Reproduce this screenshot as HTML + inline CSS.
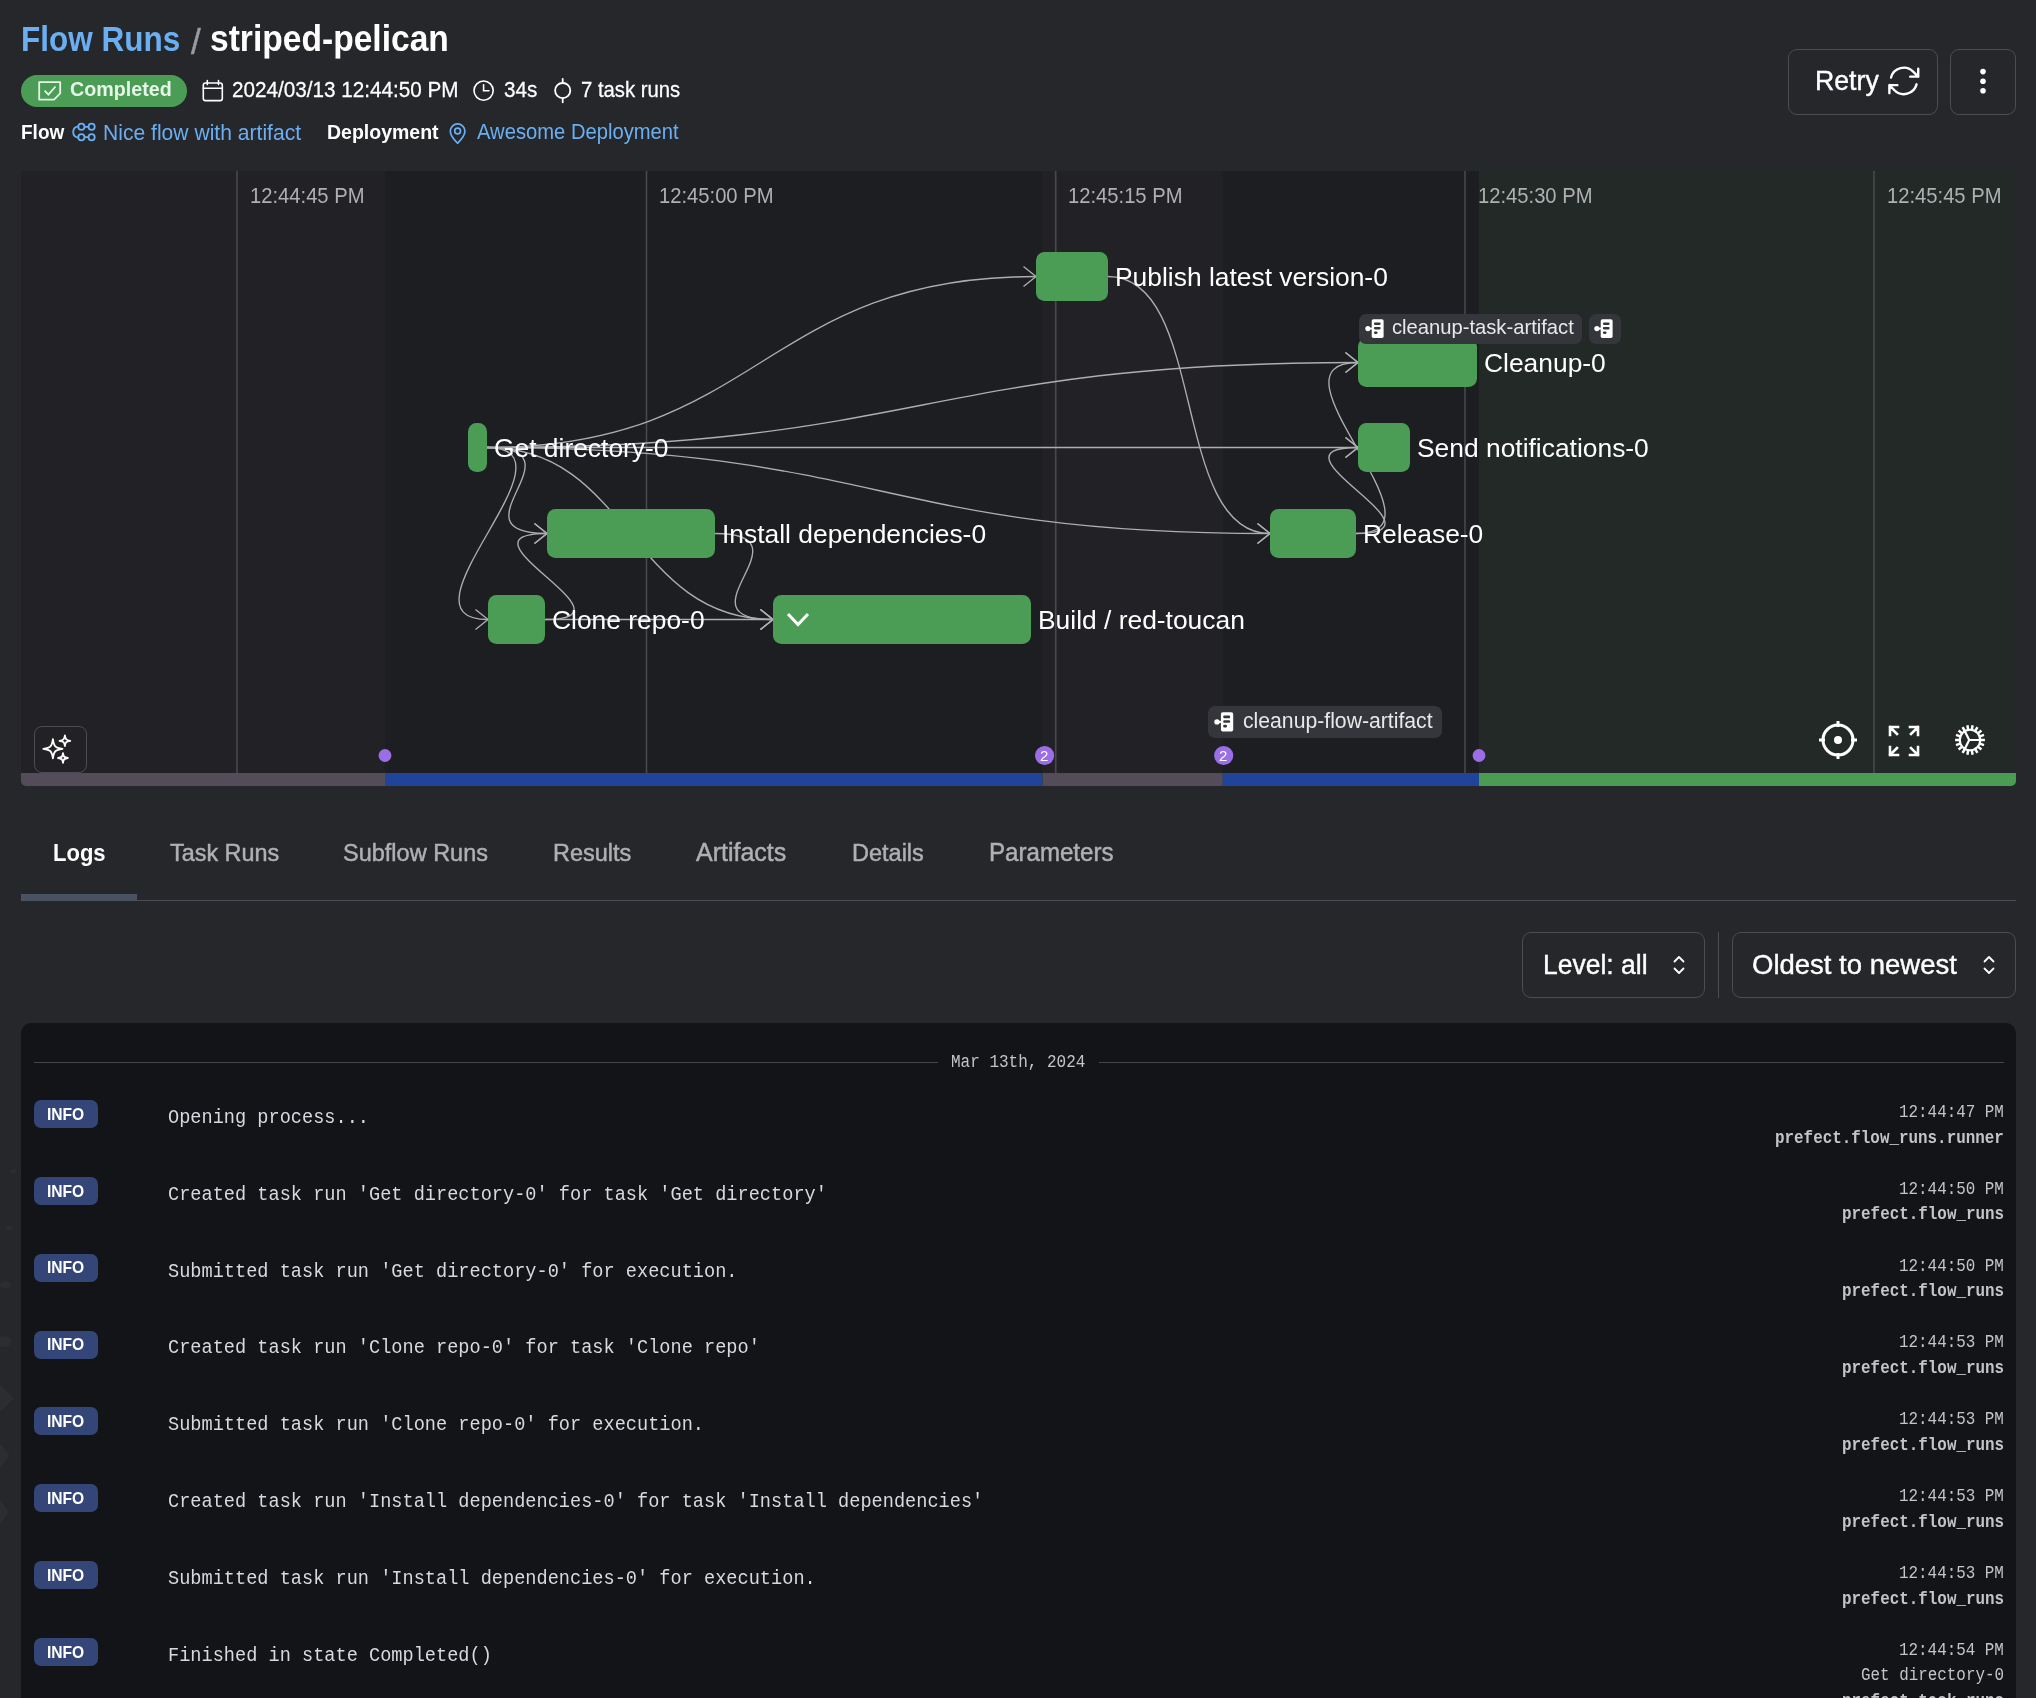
<!DOCTYPE html>
<html><head><meta charset="utf-8">
<style>
*{box-sizing:border-box;margin:0;padding:0}
html,body{width:2036px;height:1698px;overflow:hidden;background:#26272b;font-family:"Liberation Sans",sans-serif;color:#fff}
.a{position:absolute;white-space:nowrap;line-height:1;will-change:transform}
.m{font-family:"Liberation Mono",monospace}
.b{font-weight:700}
svg{position:absolute;overflow:visible}
</style></head><body>

<div class="a b" style="left:21.00px;top:24.54px;font-size:31.5px;color:#6aaff2;transform:scaleY(1.1);transform-origin:0 26.66px;">Flow Runs</div>
<div class="a" style="left:191.00px;top:23.87px;font-size:35px;color:#9a9aa0;-webkit-text-stroke:0.5px #9a9aa0;">/</div>
<div class="a b" style="left:210.00px;top:22.76px;font-size:33.6px;color:#fff;transform:scaleY(1.08);transform-origin:0 28.44px;">striped-pelican</div>
<div class="a" style="left:21.00px;top:75.00px;width:166.00px;height:32.00px;border-radius:16px;background:#4b9c55"></div>
<div class="a b" style="left:69.50px;top:80.32px;font-size:19.7px;color:#e6f6e8;transform:scaleY(1.06);transform-origin:0 16.68px;">Completed</div>
<div class="a" style="left:232.00px;top:79.88px;font-size:20.7px;color:#fff;transform:scaleY(1.05);transform-origin:0 17.52px;-webkit-text-stroke:0.25px #fff;">2024/03/13 12:44:50 PM</div>
<div class="a" style="left:503.50px;top:79.88px;font-size:20.7px;color:#fff;transform:scaleY(1.05);transform-origin:0 17.52px;-webkit-text-stroke:0.25px #fff;">34s</div>
<div class="a" style="left:581.00px;top:80.22px;font-size:20.3px;color:#fff;transform:scaleY(1.05);transform-origin:0 17.18px;-webkit-text-stroke:0.25px #fff;">7 task runs</div>
<div class="a b" style="left:21.00px;top:123.42px;font-size:19px;color:#fff;transform:scaleY(1.08);transform-origin:0 16.08px;">Flow</div>
<div class="a" style="left:102.50px;top:121.64px;font-size:21.1px;color:#6aaff2;transform:scaleY(1.04);transform-origin:0 17.86px;">Nice flow with artifact</div>
<div class="a b" style="left:327.00px;top:122.99px;font-size:19.5px;color:#fff;transform:scaleY(1.08);transform-origin:0 16.51px;">Deployment</div>
<div class="a" style="left:477.30px;top:122.40px;font-size:20.2px;color:#6aaff2;transform:scaleY(1.05);transform-origin:0 17.10px;">Awesome Deployment</div>
<svg style="left:0;top:0" width="2036" height="170" viewBox="0 0 2036 170"><path d="M39.2 82.2h21v11.2l-6.2 6.2H39.2z" fill="none" stroke="#e6f6e8" stroke-width="1.8" stroke-linejoin="round"/><path d="M44.6 90.7l3.8 4 7.1-8.2" fill="none" stroke="#e6f6e8" stroke-width="1.8" stroke-linecap="butt" stroke-linejoin="miter"/><g fill="none" stroke="#fff" stroke-width="1.6" stroke-linecap="round"><rect x="203.3" y="83" width="19" height="17.6" rx="2.2"/><path d="M203.3 88.3h19M207.3 80.6v4M218.5 80.6v4"/></g><g fill="none" stroke="#fff" stroke-width="1.6" stroke-linecap="round"><circle cx="483.6" cy="90.6" r="9.6"/><path d="M483.6 84.8v6h5.4"/></g><g fill="none" stroke="#fff" stroke-width="1.8" stroke-linecap="round"><circle cx="562.7" cy="90.6" r="7.6"/><path d="M562.7 79v3.9M562.7 98.3v4"/></g><g fill="none" stroke="#6aaff2" stroke-width="1.8"><circle cx="81.4" cy="126.8" r="3.1"/><circle cx="91.6" cy="126.8" r="3.1"/><circle cx="81.4" cy="137.2" r="3.1"/><circle cx="91.6" cy="137.2" r="3.1"/><path d="M84.5 126.8h4M84.5 137.2h4M78.3 126.3C75.2 126.8 73.2 129.2 73.2 132C73.2 134.8 75.2 137.2 78.3 137.7"/></g><g fill="none" stroke="#6aaff2" stroke-width="1.7" stroke-linejoin="round"><path d="M457.6 143.2C455 140.6 450.3 136 450.3 131.2A7.3 7.3 0 0 1 464.9 131.2C464.9 136 460.2 140.6 457.6 143.2z"/><circle cx="457.6" cy="131" r="2.9"/></g></svg>
<svg style="left:0;top:1140px" width="22" height="560" viewBox="0 1140 22 560" fill="#2c2d31"><ellipse cx="13.4" cy="1171" rx="3.6" ry="2.1"/><ellipse cx="9.5" cy="1228" rx="3.6" ry="2.1"/><ellipse cx="5.5" cy="1284.7" rx="5.5" ry="3.3"/><ellipse cx="3" cy="1341.5" rx="8.3" ry="5.5"/><path d="M0 1385L14 1398.5L0 1412z"/><path d="M0 1443L9.5 1455.5L0 1468z"/><path d="M0 1500L9 1512L0 1524z"/></svg>
<div class="a" style="left:1788.00px;top:49.00px;width:150.00px;height:66.00px;border:1px solid #4c4d53;border-radius:9px"></div>
<div class="a" style="left:1815.00px;top:67.80px;font-size:26.7px;color:#fff;transform:scaleY(1.04);transform-origin:0 22.60px;-webkit-text-stroke:0.4px #fff;">Retry</div>
<svg style="left:0;top:0" width="2036" height="170" viewBox="0 0 2036 170"><g transform="translate(1884.6 61.7) scale(1.6)" fill="none" stroke="#fff" stroke-width="1.5" stroke-linecap="round" stroke-linejoin="round"><path d="M16.023 9.348h4.992v-.001M2.985 19.644v-4.992m0 0h4.992m-4.993 0 3.181 3.183a8.25 8.25 0 0 0 13.803-3.7M4.031 9.865a8.25 8.25 0 0 1 13.803-3.7l3.181 3.182m0-4.991v4.99"/></g></svg>
<div class="a" style="left:1950.00px;top:49.00px;width:66.00px;height:66.00px;border:1px solid #4c4d53;border-radius:9px"></div>
<svg style="left:1978px;top:66px" width="10" height="30" viewBox="0 0 10 30" fill="#fff"><circle cx="5" cy="5.6" r="2.8"/><circle cx="5" cy="15.2" r="2.8"/><circle cx="5" cy="24.7" r="2.8"/></svg>
<div class="a" style="left:21px;top:171px;width:1995px;height:615px;border-radius:2px 2px 5px 5px;overflow:hidden"><svg style="left:0;top:0" width="1995" height="615" viewBox="0 0 1995 615"><rect x="0" y="0" width="364.00" height="615" fill="#222226"/><rect x="364" y="0" width="657.50" height="615" fill="#1d1e21"/><rect x="1021.5" y="0" width="180.30" height="615" fill="#222226"/><rect x="1201.8" y="0" width="256.20" height="615" fill="#1d1e21"/><rect x="1458" y="0" width="537.00" height="615" fill="#222926"/><rect x="215.2" y="0" width="1.6" height="602" fill="#48484f"/><rect x="624.7" y="0" width="1.6" height="602" fill="#48484f"/><rect x="1033.9" y="0" width="1.6" height="602" fill="#48484f"/><rect x="1443.2" y="0" width="1.6" height="602" fill="#48484f"/><rect x="1852.2" y="0" width="1.6" height="602" fill="#48484f"/><rect x="0" y="602" width="364.00" height="13" fill="#544c59"/><rect x="364" y="602" width="657.50" height="13" fill="#1f4499"/><rect x="1021.5" y="602" width="180.30" height="13" fill="#544c59"/><rect x="1201.8" y="602" width="256.20" height="13" fill="#1f4499"/><rect x="1458" y="602" width="537.00" height="13" fill="#4a9c53"/><path d="M466 276.5 C740.5 276.5 740.5 105.5 1015 105.5" fill="none" stroke="#adadb2" stroke-width="1.35"/><path d="M1002.5 95.5 L1015 105.5 L1002.5 115.5" fill="none" stroke="#adadb2" stroke-width="1.35"/><path d="M466 276.5 C901.5 276.5 901.5 191.5 1337 191.5" fill="none" stroke="#adadb2" stroke-width="1.35"/><path d="M1324.5 181.5 L1337 191.5 L1324.5 201.5" fill="none" stroke="#adadb2" stroke-width="1.35"/><path d="M466 276.5 C901.5 276.5 901.5 276.5 1337 276.5" fill="none" stroke="#adadb2" stroke-width="1.35"/><path d="M1324.5 266.5 L1337 276.5 L1324.5 286.5" fill="none" stroke="#adadb2" stroke-width="1.35"/><path d="M466 276.5 C857.5 276.5 857.5 362.5 1249 362.5" fill="none" stroke="#adadb2" stroke-width="1.35"/><path d="M1236.5 352.5 L1249 362.5 L1236.5 372.5" fill="none" stroke="#adadb2" stroke-width="1.35"/><path d="M466 276.5 C566 276.5 426 362.5 526 362.5" fill="none" stroke="#adadb2" stroke-width="1.35"/><path d="M513.5 352.5 L526 362.5 L513.5 372.5" fill="none" stroke="#adadb2" stroke-width="1.35"/><path d="M466 276.5 C566 276.5 367 448.5 467 448.5" fill="none" stroke="#adadb2" stroke-width="1.35"/><path d="M454.5 438.5 L467 448.5 L454.5 458.5" fill="none" stroke="#adadb2" stroke-width="1.35"/><path d="M466 276.5 C609.0 276.5 609.0 448.5 752 448.5" fill="none" stroke="#adadb2" stroke-width="1.35"/><path d="M739.5 438.5 L752 448.5 L739.5 458.5" fill="none" stroke="#adadb2" stroke-width="1.35"/><path d="M694 362.5 C794 362.5 652 448.5 752 448.5" fill="none" stroke="#adadb2" stroke-width="1.35"/><path d="M739.5 438.5 L752 448.5 L739.5 458.5" fill="none" stroke="#adadb2" stroke-width="1.35"/><path d="M524 448.5 C638.0 448.5 638.0 448.5 752 448.5" fill="none" stroke="#adadb2" stroke-width="1.35"/><path d="M739.5 438.5 L752 448.5 L739.5 458.5" fill="none" stroke="#adadb2" stroke-width="1.35"/><path d="M524 448.5 C624 448.5 426 362.5 526 362.5" fill="none" stroke="#adadb2" stroke-width="1.35"/><path d="M513.5 352.5 L526 362.5 L513.5 372.5" fill="none" stroke="#adadb2" stroke-width="1.35"/><path d="M1087 105.5 C1187 105.5 1149 362.5 1249 362.5" fill="none" stroke="#adadb2" stroke-width="1.35"/><path d="M1236.5 352.5 L1249 362.5 L1236.5 372.5" fill="none" stroke="#adadb2" stroke-width="1.35"/><path d="M1335 362.5 C1435 362.5 1237 191.5 1337 191.5" fill="none" stroke="#adadb2" stroke-width="1.35"/><path d="M1324.5 181.5 L1337 191.5 L1324.5 201.5" fill="none" stroke="#adadb2" stroke-width="1.35"/><path d="M1335 362.5 C1435 362.5 1237 276.5 1337 276.5" fill="none" stroke="#adadb2" stroke-width="1.35"/><path d="M1324.5 266.5 L1337 276.5 L1324.5 286.5" fill="none" stroke="#adadb2" stroke-width="1.35"/><rect x="447" y="252" width="19" height="49" rx="8.5" fill="#4b9c55"/><rect x="526" y="338" width="168" height="49" rx="8.5" fill="#4b9c55"/><rect x="467" y="424" width="57" height="49" rx="8.5" fill="#4b9c55"/><rect x="752" y="424" width="258" height="49" rx="8.5" fill="#4b9c55"/><rect x="1015" y="81" width="72" height="49" rx="8.5" fill="#4b9c55"/><rect x="1337" y="167" width="119" height="49" rx="8.5" fill="#4b9c55"/><rect x="1337" y="252" width="52" height="49" rx="8.5" fill="#4b9c55"/><rect x="1249" y="338" width="86" height="49" rx="8.5" fill="#4b9c55"/><path d="M767 443 L777 453.5 L787 443" fill="none" stroke="#fff" stroke-width="3" stroke-linecap="butt" stroke-linejoin="miter"/><circle cx="364" cy="584.5" r="6.4" fill="#9b6ee8"/><circle cx="1458" cy="584.5" r="6.4" fill="#9b6ee8"/><circle cx="1023.6" cy="584.5" r="9.6" fill="#9b6ee8"/><circle cx="1202.7" cy="584.5" r="9.6" fill="#9b6ee8"/></svg>
<div class="a" style="left:228.50px;top:15.10px;font-size:20.2px;color:#b0b0b4;transform:scaleY(1.05);transform-origin:0 17.10px;">12:44:45 PM</div>
<div class="a" style="left:638.00px;top:15.10px;font-size:20.2px;color:#b0b0b4;transform:scaleY(1.05);transform-origin:0 17.10px;">12:45:00 PM</div>
<div class="a" style="left:1047.20px;top:15.10px;font-size:20.2px;color:#b0b0b4;transform:scaleY(1.05);transform-origin:0 17.10px;">12:45:15 PM</div>
<div class="a" style="left:1456.50px;top:15.10px;font-size:20.2px;color:#b0b0b4;transform:scaleY(1.05);transform-origin:0 17.10px;">12:45:30 PM</div>
<div class="a" style="left:1865.50px;top:15.10px;font-size:20.2px;color:#b0b0b4;transform:scaleY(1.05);transform-origin:0 17.10px;">12:45:45 PM</div>
<div class="a" style="left:473.00px;top:263.55px;font-size:26.4px;color:#fff;">Get directory-0</div>
<div class="a" style="left:701.00px;top:349.55px;font-size:26.4px;color:#fff;">Install dependencies-0</div>
<div class="a" style="left:531.00px;top:435.55px;font-size:26.4px;color:#fff;">Clone repo-0</div>
<div class="a" style="left:1017.00px;top:435.55px;font-size:26.4px;color:#fff;">Build / red-toucan</div>
<div class="a" style="left:1094.00px;top:92.55px;font-size:26.4px;color:#fff;">Publish latest version-0</div>
<div class="a" style="left:1463.00px;top:178.55px;font-size:26.4px;color:#fff;">Cleanup-0</div>
<div class="a" style="left:1396.00px;top:263.55px;font-size:26.4px;color:#fff;">Send notifications-0</div>
<div class="a" style="left:1342.00px;top:349.55px;font-size:26.4px;color:#fff;">Release-0</div>
<div class="a" style="left:1019.10px;top:577.30px;font-size:15px;color:#fff;">2</div>
<div class="a" style="left:1198.20px;top:577.30px;font-size:15px;color:#fff;">2</div>
<div class="a" style="left:1337.50px;top:142.50px;width:223.20px;height:30.00px;border-radius:7px;background:#35363b"></div><svg style="left:1343.6px;top:147.5px" width="19.2" height="19.2" viewBox="0 0 20 20"><circle cx="3" cy="10" r="2.7" fill="#fff"/><path d="M3 10h5" stroke="#fff" stroke-width="2"/><rect x="7" y="0.3" width="12.4" height="19.4" rx="1.8" fill="#fff"/><rect x="9.3" y="3.6" width="7" height="2.6" rx="1.2" fill="#35363b"/><rect x="9.3" y="8.3" width="7" height="2.6" rx="1.2" fill="#35363b"/><rect x="9.3" y="13" width="3.8" height="2.6" rx="1.2" fill="#35363b"/></svg><div class="a" style="left:1370.50px;top:146.10px;font-size:20.2px;color:#e8e8ea;">cleanup-task-artifact</div>
<div class="a" style="left:1567.60px;top:142.50px;width:32.40px;height:30.00px;border-radius:7px;background:#35363b"></div><svg style="left:1572.6px;top:147.5px" width="19.2" height="19.2" viewBox="0 0 20 20"><circle cx="3" cy="10" r="2.7" fill="#fff"/><path d="M3 10h5" stroke="#fff" stroke-width="2"/><rect x="7" y="0.3" width="12.4" height="19.4" rx="1.8" fill="#fff"/><rect x="9.3" y="3.6" width="7" height="2.6" rx="1.2" fill="#35363b"/><rect x="9.3" y="8.3" width="7" height="2.6" rx="1.2" fill="#35363b"/><rect x="9.3" y="13" width="3.8" height="2.6" rx="1.2" fill="#35363b"/></svg>
<div class="a" style="left:1187.00px;top:535.00px;width:234.00px;height:31.50px;border-radius:7px;background:#35363b"></div><svg style="left:1192.6px;top:541px" width="19.8" height="19.8" viewBox="0 0 20 20"><circle cx="3" cy="10" r="2.7" fill="#fff"/><path d="M3 10h5" stroke="#fff" stroke-width="2"/><rect x="7" y="0.3" width="12.4" height="19.4" rx="1.8" fill="#fff"/><rect x="9.3" y="3.6" width="7" height="2.6" rx="1.2" fill="#35363b"/><rect x="9.3" y="8.3" width="7" height="2.6" rx="1.2" fill="#35363b"/><rect x="9.3" y="13" width="3.8" height="2.6" rx="1.2" fill="#35363b"/></svg><div class="a" style="left:1221.50px;top:539.05px;font-size:21.2px;color:#e8e8ea;">cleanup-flow-artifact</div>
<div class="a" style="left:13.00px;top:555.00px;width:53.00px;height:47.00px;border:1px solid #4c4d53;border-radius:8px;background:#222226"></div>
<svg style="left:0;top:0" width="1995" height="615" viewBox="21 171 1995 615" fill="none" stroke="#fff" stroke-width="1.8" stroke-linejoin="round"><path d="M52.9 739.1999999999999 C53.86 746.40 55.30 747.84 62.5 748.8 C55.30 749.76 53.86 751.20 52.9 758.4 C51.94 751.20 50.50 749.76 43.3 748.8 C50.50 747.84 51.94 746.40 52.9 739.1999999999999zM64.9 735.4 C65.44 739.45 66.25 740.26 70.30000000000001 740.8 C66.25 741.34 65.44 742.15 64.9 746.1999999999999 C64.36 742.15 63.55 741.34 59.50000000000001 740.8 C63.55 740.26 64.36 739.45 64.9 735.4zM63 753.1 C63.49 756.77 64.22 757.51 67.9 758 C64.22 758.49 63.49 759.23 63 762.9 C62.51 759.23 61.77 758.49 58.1 758 C61.77 757.51 62.51 756.77 63 753.1z"/></svg>
<svg style="left:1797px;top:549px" width="40" height="40" viewBox="0 0 40 40" fill="none" stroke="#fff" stroke-width="3"><circle cx="20" cy="20" r="15"/><circle cx="20" cy="20" r="4" fill="#fff" stroke="none"/><path d="M20 1v6M20 33v6M1 20h6M33 20h6"/></svg>
<svg style="left:1867px;top:554px" width="32" height="32" viewBox="0 0 32 32" fill="none" stroke="#fff" stroke-width="2.6" stroke-linecap="square"><path d="M2 10V2h8M2 2l7 7M30 10V2h-8M30 2l-7 7M2 22v8h8M2 30l7-7M30 22v8h-8M30 30l-7-7"/></svg>
<svg style="left:0;top:0" width="1995" height="615" viewBox="21 171 1995 615" fill="none" stroke="#fff"><circle cx="1970" cy="740" r="10.2" stroke-width="2.1"/><path d="M1980.50 740.00L1984.90 740.00M1979.87 743.59L1984.00 745.10M1978.04 746.75L1981.41 749.58M1975.25 749.09L1977.45 752.90M1971.82 750.34L1972.59 754.67M1968.18 750.34L1967.41 754.67M1964.75 749.09L1962.55 752.90M1961.96 746.75L1958.59 749.58M1960.13 743.59L1956.00 745.10M1959.50 740.00L1955.10 740.00M1960.13 736.41L1956.00 734.90M1961.96 733.25L1958.59 730.42M1964.75 730.91L1962.55 727.10M1968.18 729.66L1967.41 725.33M1971.82 729.66L1972.59 725.33M1975.25 730.91L1977.45 727.10M1978.04 733.25L1981.41 730.42M1979.87 736.41L1984.00 734.90" stroke-width="2.5"/><path d="M1969.2 740L1980.50 740.00M1969.2 740L1964.75 749.09M1969.2 740L1964.75 730.91" stroke-width="2.2"/></svg></div>
<div class="a b" style="left:53.00px;top:842.68px;font-size:22px;color:#fff;transform:scaleY(1.08);transform-origin:0 18.62px;">Logs</div>
<div class="a" style="left:170.00px;top:841.69px;font-size:23.4px;color:#b0b0b4;transform:scaleY(1.05);transform-origin:0 19.81px;-webkit-text-stroke:0.45px #b0b0b4;">Task Runs</div>
<div class="a" style="left:343.00px;top:841.61px;font-size:23.5px;color:#b0b0b4;transform:scaleY(1.05);transform-origin:0 19.89px;-webkit-text-stroke:0.45px #b0b0b4;">Subflow Runs</div>
<div class="a" style="left:553.00px;top:841.61px;font-size:23.5px;color:#b0b0b4;transform:scaleY(1.05);transform-origin:0 19.89px;-webkit-text-stroke:0.45px #b0b0b4;">Results</div>
<div class="a" style="left:695.50px;top:840.34px;font-size:25px;color:#b0b0b4;transform:scaleY(1.05);transform-origin:0 21.16px;-webkit-text-stroke:0.45px #b0b0b4;">Artifacts</div>
<div class="a" style="left:852.00px;top:841.61px;font-size:23.5px;color:#b0b0b4;transform:scaleY(1.05);transform-origin:0 19.89px;-webkit-text-stroke:0.45px #b0b0b4;">Details</div>
<div class="a" style="left:988.50px;top:841.10px;font-size:24.1px;color:#b0b0b4;transform:scaleY(1.05);transform-origin:0 20.40px;-webkit-text-stroke:0.45px #b0b0b4;">Parameters</div>
<div class="a" style="left:21.00px;top:900.00px;width:1995.00px;height:1.00px;background:#4a4b55"></div>
<div class="a" style="left:21.00px;top:894.00px;width:116.00px;height:7.00px;background:#4a5161"></div>
<div class="a" style="left:1522.00px;top:932.00px;width:183.00px;height:66.00px;border:1px solid #4c4d53;border-radius:9px"></div>
<div class="a" style="left:1543.00px;top:951.57px;font-size:26.5px;color:#fff;transform:scaleY(1.04);transform-origin:0 22.43px;-webkit-text-stroke:0.4px #fff;">Level: all</div>
<svg style="left:1672px;top:955px" width="14" height="20" viewBox="0 0 14 20" fill="none" stroke="#fff" stroke-width="1.8" stroke-linecap="round" stroke-linejoin="round"><path d="M2.5 6.5L7 2l4.5 4.5M2.5 13.5L7 18l4.5-4.5"/></svg>
<div class="a" style="left:1718.00px;top:932.00px;width:1.00px;height:66.00px;background:#4c4d53"></div>
<div class="a" style="left:1732.00px;top:932.00px;width:284.00px;height:66.00px;border:1px solid #4c4d53;border-radius:9px"></div>
<div class="a" style="left:1752.00px;top:950.72px;font-size:27.5px;color:#fff;-webkit-text-stroke:0.4px #fff;">Oldest to newest</div>
<svg style="left:1982px;top:955px" width="14" height="20" viewBox="0 0 14 20" fill="none" stroke="#fff" stroke-width="1.8" stroke-linecap="round" stroke-linejoin="round"><path d="M2.5 6.5L7 2l4.5 4.5M2.5 13.5L7 18l4.5-4.5"/></svg>
<div class="a" style="left:21px;top:1023px;width:1995px;height:700px;background:#131418;border-radius:10px"><div class="a" style="left:13.00px;top:39.00px;width:904.00px;height:1.00px;background:#45464d"></div>
<div class="a" style="left:1078.00px;top:39.00px;width:905.00px;height:1.00px;background:#45464d"></div>
<div class="a m" style="left:930.00px;top:31.74px;font-size:16px;color:#c4c4c8;transform:scaleY(1.12);transform-origin:0 12.26px;">Mar 13th, 2024</div>
<div class="a" style="left:13.00px;top:77.00px;width:64.00px;height:28.00px;border-radius:7px;background:#344677"></div>
<div class="a b" style="left:26.00px;top:83.79px;font-size:15.6px;color:#fff;transform:scaleY(1.11);transform-origin:0 13.21px;">INFO</div>
<div class="a m" style="left:147.00px;top:85.92px;font-size:18.63px;color:#d8d8de;transform:scaleY(1.12);transform-origin:0 14.28px;">Opening process...</div>
<div class="a m" style="right:12.00px;top:82.81px;font-size:15.9px;color:#c4c4c8;transform:scaleY(1.12);transform-origin:0 12.19px;">12:44:47 PM</div>
<div class="a m b" style="right:12.00px;top:108.51px;font-size:15.9px;color:#c4c4c8;transform:scaleY(1.12);transform-origin:0 12.19px;">prefect.flow_runs.runner</div>
<div class="a" style="left:13.00px;top:153.85px;width:64.00px;height:28.00px;border-radius:7px;background:#344677"></div>
<div class="a b" style="left:26.00px;top:160.64px;font-size:15.6px;color:#fff;transform:scaleY(1.11);transform-origin:0 13.21px;">INFO</div>
<div class="a m" style="left:147.00px;top:162.77px;font-size:18.63px;color:#d8d8de;transform:scaleY(1.12);transform-origin:0 14.28px;">Created task run &#39;Get directory-0&#39; for task &#39;Get directory&#39;</div>
<div class="a m" style="right:12.00px;top:159.66px;font-size:15.9px;color:#c4c4c8;transform:scaleY(1.12);transform-origin:0 12.19px;">12:44:50 PM</div>
<div class="a m b" style="right:12.00px;top:185.36px;font-size:15.9px;color:#c4c4c8;transform:scaleY(1.12);transform-origin:0 12.19px;">prefect.flow_runs</div>
<div class="a" style="left:13.00px;top:230.70px;width:64.00px;height:28.00px;border-radius:7px;background:#344677"></div>
<div class="a b" style="left:26.00px;top:237.49px;font-size:15.6px;color:#fff;transform:scaleY(1.11);transform-origin:0 13.21px;">INFO</div>
<div class="a m" style="left:147.00px;top:239.62px;font-size:18.63px;color:#d8d8de;transform:scaleY(1.12);transform-origin:0 14.28px;">Submitted task run &#39;Get directory-0&#39; for execution.</div>
<div class="a m" style="right:12.00px;top:236.51px;font-size:15.9px;color:#c4c4c8;transform:scaleY(1.12);transform-origin:0 12.19px;">12:44:50 PM</div>
<div class="a m b" style="right:12.00px;top:262.21px;font-size:15.9px;color:#c4c4c8;transform:scaleY(1.12);transform-origin:0 12.19px;">prefect.flow_runs</div>
<div class="a" style="left:13.00px;top:307.55px;width:64.00px;height:28.00px;border-radius:7px;background:#344677"></div>
<div class="a b" style="left:26.00px;top:314.34px;font-size:15.6px;color:#fff;transform:scaleY(1.11);transform-origin:0 13.21px;">INFO</div>
<div class="a m" style="left:147.00px;top:316.47px;font-size:18.63px;color:#d8d8de;transform:scaleY(1.12);transform-origin:0 14.28px;">Created task run &#39;Clone repo-0&#39; for task &#39;Clone repo&#39;</div>
<div class="a m" style="right:12.00px;top:313.36px;font-size:15.9px;color:#c4c4c8;transform:scaleY(1.12);transform-origin:0 12.19px;">12:44:53 PM</div>
<div class="a m b" style="right:12.00px;top:339.06px;font-size:15.9px;color:#c4c4c8;transform:scaleY(1.12);transform-origin:0 12.19px;">prefect.flow_runs</div>
<div class="a" style="left:13.00px;top:384.40px;width:64.00px;height:28.00px;border-radius:7px;background:#344677"></div>
<div class="a b" style="left:26.00px;top:391.19px;font-size:15.6px;color:#fff;transform:scaleY(1.11);transform-origin:0 13.21px;">INFO</div>
<div class="a m" style="left:147.00px;top:393.32px;font-size:18.63px;color:#d8d8de;transform:scaleY(1.12);transform-origin:0 14.28px;">Submitted task run &#39;Clone repo-0&#39; for execution.</div>
<div class="a m" style="right:12.00px;top:390.21px;font-size:15.9px;color:#c4c4c8;transform:scaleY(1.12);transform-origin:0 12.19px;">12:44:53 PM</div>
<div class="a m b" style="right:12.00px;top:415.91px;font-size:15.9px;color:#c4c4c8;transform:scaleY(1.12);transform-origin:0 12.19px;">prefect.flow_runs</div>
<div class="a" style="left:13.00px;top:461.25px;width:64.00px;height:28.00px;border-radius:7px;background:#344677"></div>
<div class="a b" style="left:26.00px;top:468.04px;font-size:15.6px;color:#fff;transform:scaleY(1.11);transform-origin:0 13.21px;">INFO</div>
<div class="a m" style="left:147.00px;top:470.17px;font-size:18.63px;color:#d8d8de;transform:scaleY(1.12);transform-origin:0 14.28px;">Created task run &#39;Install dependencies-0&#39; for task &#39;Install dependencies&#39;</div>
<div class="a m" style="right:12.00px;top:467.06px;font-size:15.9px;color:#c4c4c8;transform:scaleY(1.12);transform-origin:0 12.19px;">12:44:53 PM</div>
<div class="a m b" style="right:12.00px;top:492.76px;font-size:15.9px;color:#c4c4c8;transform:scaleY(1.12);transform-origin:0 12.19px;">prefect.flow_runs</div>
<div class="a" style="left:13.00px;top:538.10px;width:64.00px;height:28.00px;border-radius:7px;background:#344677"></div>
<div class="a b" style="left:26.00px;top:544.89px;font-size:15.6px;color:#fff;transform:scaleY(1.11);transform-origin:0 13.21px;">INFO</div>
<div class="a m" style="left:147.00px;top:547.02px;font-size:18.63px;color:#d8d8de;transform:scaleY(1.12);transform-origin:0 14.28px;">Submitted task run &#39;Install dependencies-0&#39; for execution.</div>
<div class="a m" style="right:12.00px;top:543.91px;font-size:15.9px;color:#c4c4c8;transform:scaleY(1.12);transform-origin:0 12.19px;">12:44:53 PM</div>
<div class="a m b" style="right:12.00px;top:569.61px;font-size:15.9px;color:#c4c4c8;transform:scaleY(1.12);transform-origin:0 12.19px;">prefect.flow_runs</div>
<div class="a" style="left:13.00px;top:614.95px;width:64.00px;height:28.00px;border-radius:7px;background:#344677"></div>
<div class="a b" style="left:26.00px;top:621.74px;font-size:15.6px;color:#fff;transform:scaleY(1.11);transform-origin:0 13.21px;">INFO</div>
<div class="a m" style="left:147.00px;top:623.87px;font-size:18.63px;color:#d8d8de;transform:scaleY(1.12);transform-origin:0 14.28px;">Finished in state Completed()</div>
<div class="a m" style="right:12.00px;top:620.76px;font-size:15.9px;color:#c4c4c8;transform:scaleY(1.12);transform-origin:0 12.19px;">12:44:54 PM</div>
<div class="a m" style="right:12.00px;top:646.46px;font-size:15.9px;color:#c4c4c8;transform:scaleY(1.12);transform-origin:0 12.19px;">Get directory-0</div>
<div class="a m b" style="right:12.00px;top:671.76px;font-size:15.9px;color:#c4c4c8;transform:scaleY(1.12);transform-origin:0 12.19px;">prefect.task_runs</div></div>
</body></html>
